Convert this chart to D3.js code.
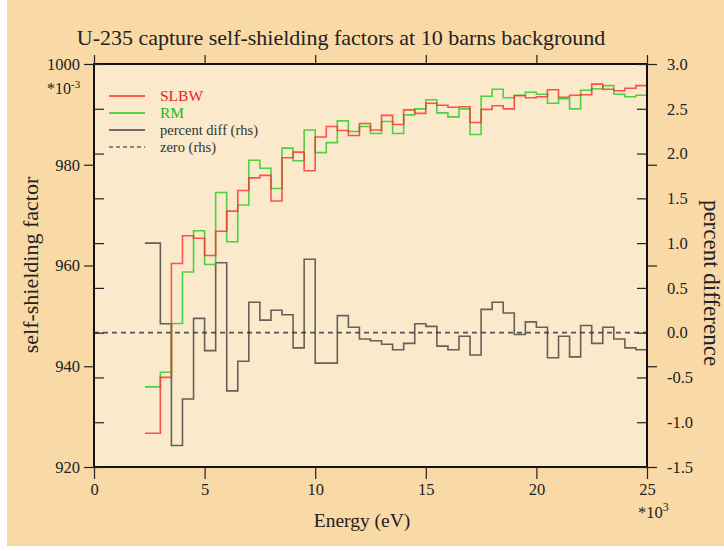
<!DOCTYPE html>
<html>
<head>
<meta charset="utf-8">
<script src="https://cdn.jsdelivr.net/npm/d3@7"></script>
<style>
html,body{margin:0;padding:0;background:#ffffff;}
svg{display:block;}
text{font-family:"Liberation Serif","Times New Roman",serif;fill:#222;}
</style>
</head>
<body>
<svg id="chart" width="724" height="551"></svg>
<script>
// Energy bin edges (keV)
const binEdges = [2.3, 3.0, 3.5, 4.0, 4.5, 5.0, 5.5, 6.0, 6.5, 7.0, 7.5, 8.0, 8.5, 9.0, 9.5, 10.0,
  10.5, 11.0, 11.5, 12.0, 12.5, 13.0, 13.5, 14.0, 14.5, 15.0, 15.5, 16.0, 16.5, 17.0, 17.5,
  18.0, 18.5, 19.0, 19.5, 20.0, 20.5, 21.0, 21.5, 22.0, 22.5, 23.0, 23.5, 24.0, 24.5, 25.0];
// self-shielding factor * 1e3
const slbw = [926.7, 937.8, 960.4, 965.9, 965.4, 962.0, 966.8, 970.8, 974.9, 977.4, 977.9, 972.8,
  981.4, 982.5, 978.8, 985.5, 987.6, 986.8, 985.8, 988.2, 986.9, 989.8, 988.0, 990.9, 990.2,
  992.2, 991.8, 991.4, 991.5, 988.4, 991.0, 991.7, 991.1, 993.7, 993.3, 993.5, 994.9, 993.4,
  993.8, 993.9, 996.0, 995.0, 994.7, 995.2, 995.7];
const rm = [935.9, 938.8, 948.5, 958.7, 966.9, 960.2, 974.5, 964.7, 972.0, 980.9, 979.3, 975.3,
  983.3, 980.8, 986.9, 982.4, 984.4, 988.7, 986.6, 987.6, 986.2, 988.6, 986.2, 989.9, 991.1,
  992.9, 990.3, 989.5, 991.1, 986.0, 993.6, 995.0, 993.3, 993.8, 994.4, 994.0, 992.2, 993.1,
  991.1, 994.8, 995.1, 995.7, 994.0, 993.5, 993.8];
// percent difference (rhs)
const pctDiff = [1.00, 0.10, -1.26, -0.74, 0.16, -0.20, 0.78, -0.65, -0.32, 0.34, 0.14, 0.25,
  0.20, -0.17, 0.82, -0.34, -0.34, 0.19, 0.06, -0.07, -0.09, -0.13, -0.19, -0.12, 0.10, 0.07,
  -0.15, -0.19, -0.04, -0.25, 0.26, 0.34, 0.22, -0.02, 0.12, 0.06, -0.28, -0.04, -0.27, 0.08,
  -0.12, 0.06, -0.07, -0.17, -0.19];

const xTicks = [0, 5, 10, 15, 20, 25];
const leftTicks = [920, 940, 960, 980, 1000];
const rightTicks = [-1.5, -1.0, -0.5, 0.0, 0.5, 1.0, 1.5, 2.0, 2.5, 3.0];
const legendLabels = ["SLBW", "RM", "percent diff (rhs)", "zero (rhs)"];

const svg = d3.select("#chart");
const W = 724;
const plot = {left: 94, right: 647, top: 64, bottom: 467};

// backgrounds
svg.append("rect").attr("x", 7).attr("y", 0).attr("width", W - 7).attr("height", 546).attr("fill", "#f9d9a6");
svg.append("rect").attr("x", plot.left).attr("y", plot.top)
  .attr("width", plot.right - plot.left).attr("height", plot.bottom - plot.top).attr("fill", "#fae9ca");

const x = d3.scaleLinear().domain([0, 25]).range([plot.left, plot.right]);
const yL = d3.scaleLinear().domain([920, 1000]).range([plot.bottom, plot.top]);
const yR = d3.scaleLinear().domain([-1.5, 3.0]).range([plot.bottom, plot.top]);

function stepPts(vals) {
  const pts = vals.map((v, i) => [binEdges[i], v]);
  pts.push([binEdges[vals.length], vals[vals.length - 1]]);
  return pts;
}

// zero line
svg.append("line").attr("x1", x(0)).attr("x2", x(25)).attr("y1", yR(0)).attr("y2", yR(0))
  .attr("stroke", "#555").attr("stroke-width", 1.6).attr("stroke-dasharray", "5,4");

const lineL = d3.line().x(d => x(d[0])).y(d => yL(d[1])).curve(d3.curveStepAfter);
const lineR = d3.line().x(d => x(d[0])).y(d => yR(d[1])).curve(d3.curveStepAfter);

svg.append("path").attr("d", lineR(stepPts(pctDiff))).attr("fill", "none")
  .attr("stroke", "#333").attr("stroke-opacity", 0.75).attr("stroke-width", 1.6);
svg.append("path").attr("d", lineL(stepPts(rm))).attr("fill", "none")
  .attr("stroke", "#22cc22").attr("stroke-opacity", 0.8).attr("stroke-width", 1.6);
svg.append("path").attr("d", lineL(stepPts(slbw))).attr("fill", "none")
  .attr("stroke", "#ff2a2a").attr("stroke-opacity", 0.8).attr("stroke-width", 1.6);

// frame
svg.append("rect").attr("x", plot.left).attr("y", plot.top)
  .attr("width", plot.right - plot.left).attr("height", plot.bottom - plot.top)
  .attr("fill", "none").attr("stroke", "#111").attr("stroke-width", 2);

function styleAxis(g, labels) {
  g.select(".domain").remove();
  g.selectAll("line").attr("stroke", "#222").attr("stroke-width", 1.2);
  if (labels) {
    g.selectAll("text").attr("font-family", "Liberation Serif, serif").attr("font-size", 16.5).attr("fill", "#222");
  } else {
    g.selectAll("text").remove();
  }
}

// bottom (labelled) and top ticks
styleAxis(svg.append("g").attr("transform", `translate(0,${plot.bottom})`)
  .call(d3.axisBottom(x).tickValues(xTicks).tickFormat(d => String(d)).tickSize(12).tickPadding(4)), true);
styleAxis(svg.append("g").attr("transform", `translate(0,${plot.top})`)
  .call(d3.axisTop(x).tickValues(xTicks).tickSize(9)), false);
// left axis: own ticks outward, rhs ticks inward
styleAxis(svg.append("g").attr("transform", `translate(${plot.left},0)`)
  .call(d3.axisLeft(yL).tickValues(leftTicks).tickFormat(d => String(d)).tickSize(10).tickPadding(4)), true);
styleAxis(svg.append("g").attr("transform", `translate(${plot.left},0)`)
  .call(d3.axisRight(yR).tickValues(rightTicks).tickSize(10)), false);
// right axis: own ticks inward with labels outside, lhs ticks outward
styleAxis(svg.append("g").attr("transform", `translate(${plot.right},0)`)
  .call(d3.axisLeft(yR).tickValues(rightTicks).tickSize(10)), false);
styleAxis(svg.append("g").attr("transform", `translate(${plot.right},0)`)
  .call(d3.axisRight(yR).tickValues(rightTicks).tickFormat(d => d.toFixed(1)).tickSize(0).tickPadding(20)), true);
styleAxis(svg.append("g").attr("transform", `translate(${plot.right},0)`)
  .call(d3.axisRight(yL).tickValues(leftTicks).tickSize(10)), false);

// multipliers
const m1 = svg.append("text").attr("x", 47).attr("y", 94).attr("font-size", 16);
m1.append("tspan").text("*10");
m1.append("tspan").attr("dy", -6).attr("font-size", 11).text("-3");
const m2 = svg.append("text").attr("x", 638).attr("y", 518).attr("font-size", 16.5);
m2.append("tspan").text("*10");
m2.append("tspan").attr("dy", -7).attr("font-size", 12).text("3");

// title and axis labels
svg.append("text").attr("x", 341).attr("y", 45).attr("text-anchor", "middle")
  .attr("font-size", 22).text("U-235 capture self-shielding factors at 10 barns background");
svg.append("text").attr("transform", "translate(38,265) rotate(-90)").attr("text-anchor", "middle")
  .attr("font-size", 22).text("self-shielding factor");
svg.append("text").attr("transform", "translate(704,283) rotate(90)").attr("text-anchor", "middle")
  .attr("font-size", 23).text("percent difference");
svg.append("text").attr("x", 362).attr("y", 527).attr("text-anchor", "middle")
  .attr("font-size", 19.5).text("Energy (eV)");

// legend
const legendStyle = [
  {color: "#ff2a2a", text: "#e82020", dash: null, size: 15.5},
  {color: "#22cc22", text: "#22bb22", dash: null, size: 15.5},
  {color: "#444", text: "#333", dash: null, size: 14.5},
  {color: "#666", text: "#333", dash: "4,3", size: 14.5}
];
legendLabels.forEach((label, i) => {
  const s = legendStyle[i];
  const yy = 96 + i * 17;
  svg.append("line").attr("x1", 109).attr("x2", 145).attr("y1", yy).attr("y2", yy)
    .attr("stroke", s.color).attr("stroke-width", 1.4).attr("stroke-dasharray", s.dash);
  svg.append("text").attr("x", 160).attr("y", yy + 5).attr("font-size", s.size)
    .style("fill", s.text).text(label);
});
</script>
</body>
</html>
